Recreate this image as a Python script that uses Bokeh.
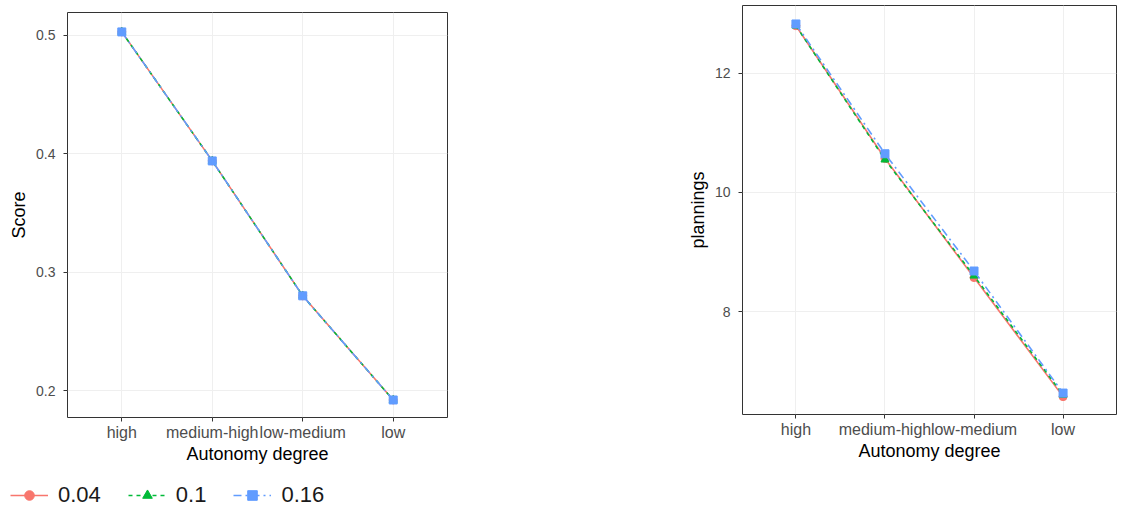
from bokeh.plotting import figure
from bokeh.layouts import row, column
from bokeh.models import FactorRange, Range1d, Legend, LegendItem, FixedTicker
from bokeh.embed import file_html
from bokeh.resources import INLINE

# ---- data ----
categories = ["high", "medium-high", "low-medium", "low"]
series_names = ["0.04", "0.1", "0.16"]

score_004 = [0.503, 0.394, 0.280, 0.192]
score_01 = [0.503, 0.394, 0.280, 0.192]
score_016 = [0.503, 0.394, 0.280, 0.192]

plan_004 = [12.80, 10.57, 8.57, 6.57]
plan_01 = [12.80, 10.55, 8.60, 6.60]
plan_016 = [12.83, 10.65, 8.68, 6.63]

score_ticks = [0.2, 0.3, 0.4, 0.5]
plan_ticks = [8, 10, 12]

# ---- styles ----
colors = ["#F8766D", "#00BA38", "#619CFF"]
dashes = ["solid", "4 4", "8 4 2 4"]
markers = ["circle", "triangle", "square"]
FONT = "Liberation Sans"


def make_fig(ylabel, y_start, y_end, ticks, frame_w, frame_h, bl, br, bt, bb):
    p = figure(
        x_range=FactorRange(*categories, range_padding=0.1, range_padding_units="absolute"),
        y_range=Range1d(y_start, y_end),
        frame_width=frame_w, frame_height=frame_h,
        min_border_left=bl, min_border_right=br,
        min_border_top=bt, min_border_bottom=bb,
        output_backend="svg", toolbar_location=None,
        background_fill_color="white", border_fill_color="white",
    )
    p.outline_line_color = "#333333"
    p.outline_line_width = 1
    p.xgrid.grid_line_color = "#efefef"
    p.ygrid.grid_line_color = "#efefef"
    p.yaxis.ticker = FixedTicker(ticks=ticks)
    for ax in (p.xaxis[0], p.yaxis[0]):
        ax.axis_line_color = None
        ax.major_tick_line_color = "#333333"
        ax.major_tick_out = 4
        ax.major_tick_in = 0
        ax.minor_tick_line_color = None
        ax.major_label_text_font = FONT
        ax.major_label_text_color = "#4d4d4d"
        ax.axis_label_text_font = FONT
        ax.axis_label_text_font_size = "18px"
        ax.axis_label_text_font_style = "normal"
        ax.axis_label_text_color = "black"
    p.xaxis.major_label_text_font_size = "16px"
    p.yaxis.major_label_text_font_size = "14px"
    p.xaxis.major_label_standoff = 2
    p.xaxis.axis_label_standoff = 0
    p.yaxis.major_label_standoff = 8
    p.yaxis.axis_label_standoff = 4
    p.xaxis.axis_label = "Autonomy degree"
    p.yaxis.axis_label = ylabel
    return p


def draw(p, series):
    items = []
    for name, vals, c, d, m in zip(series_names, series, colors, dashes, markers):
        lr = p.line(categories, vals, line_color=c, line_width=1.6, line_dash=d)
        sr = p.scatter(categories, vals, marker=m, size=8, fill_color=c, line_color=c)
        items.append(LegendItem(label=name, renderers=[lr, sr]))
    return items


p1 = make_fig("Score", 0.1772, 0.5194, score_ticks, 380, 405, 67, 237, 12, 52)
draw(p1, [score_004, score_01, score_016])

p2 = make_fig("plannings", 6.27, 13.14, plan_ticks, 374, 409, 53, 1, 5, 55)
draw(p2, [plan_004, plan_01, plan_016])

# shared legend strip under both panels (the series are drawn out of its view)
p3 = figure(
    x_range=FactorRange(*categories), y_range=Range1d(100, 101),
    frame_width=1112, frame_height=39,
    min_border_left=0, min_border_right=0, min_border_top=0, min_border_bottom=0,
    x_axis_location=None, y_axis_location=None,
    output_backend="svg", toolbar_location=None,
    background_fill_color="white", border_fill_color="white",
)
p3.outline_line_color = None
p3.grid.visible = False
leg_items = draw(p3, [score_004, score_01, score_016])

legend = Legend(items=leg_items, orientation="horizontal", location=(10, 0),
                padding=0, margin=0, spacing=27, label_standoff=10,
                glyph_width=38, glyph_height=24,
                label_text_font=FONT, label_text_font_size="22px",
                label_text_color="#1a1a1a",
                border_line_color=None, background_fill_alpha=0)
p3.add_layout(legend)

layout = column(row(column(p1), column(p2)), p3)
open("out.html", "w").write(file_html(layout, INLINE))
